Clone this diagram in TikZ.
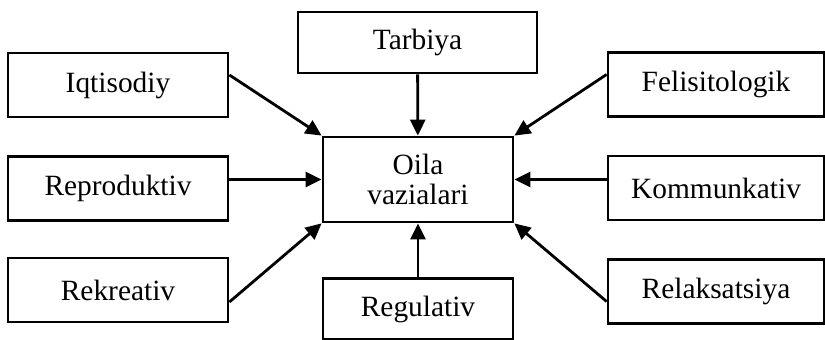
\documentclass[tikz,border=0pt]{standalone}
\usepackage{fontspec}
\setmainfont{Liberation Serif}
\usepackage{tikz}
\usetikzlibrary{arrows.meta, positioning, calc}
\tikzstyle{func} = [rectangle, minimum width=110pt, minimum height=32pt, text centered, draw=black, line width=1.4pt, font=\fontsize{14.7}{16}\selectfont]
\tikzstyle{core} = [rectangle, minimum width=95pt, minimum height=42.5pt, text centered, align=center, draw=black, line width=1.4pt, font=\fontsize{14.7}{15}\selectfont]
\tikzstyle{arrow} = [line width=1.4pt, -{Triangle[length=8pt,width=7.5pt]}]

\begin{document}
\begin{tikzpicture}[x=0.5pt, y=-0.5pt]
\useasboundingbox (0,0) rectangle (825,340);
\node [core] (oila) at (418,179.5) {Oila\\vazialari};
\node [func, minimum width=119.5pt, minimum height=30.5pt] (tarbiya) at (417.5,42.5) {Tarbiya};
\node [func, minimum width=95pt, minimum height=30.5pt] (regul) at (418,309) {Regulativ};
% left column
\node [func] (iqtis) at (118,85) {Iqtisodiy};
\node [func] (repro) at (118,188.5) {Reproduktiv};
\node [func] (rekre) at (118,290) {Rekreativ};
% right column
\node [func, minimum width=108pt] (felis) at (716,84.5) {Felisitologik};
\node [func, minimum width=108pt] (kommu) at (716,188) {Kommunkativ};
\node [func, minimum width=108pt] (relak) at (716,291.5) {Relaksatsiya};

\draw [arrow] (tarbiya) -- (oila);
\draw [arrow] (regul) -- (oila);
\draw [arrow] ([yshift=5pt]iqtis.east) -- (oila.north west);
\draw [arrow] (repro.east |- oila) -- (oila.west);
\draw [arrow] ([yshift=-6pt]rekre.east) -- (oila.south west);
\draw [arrow] ([yshift=5pt]felis.west) -- (oila.north east);
\draw [arrow] (kommu.west |- oila) -- (oila.east);
\draw [arrow] ([yshift=-5pt]relak.west) -- (oila.south east);
\end{tikzpicture}
\end{document}
